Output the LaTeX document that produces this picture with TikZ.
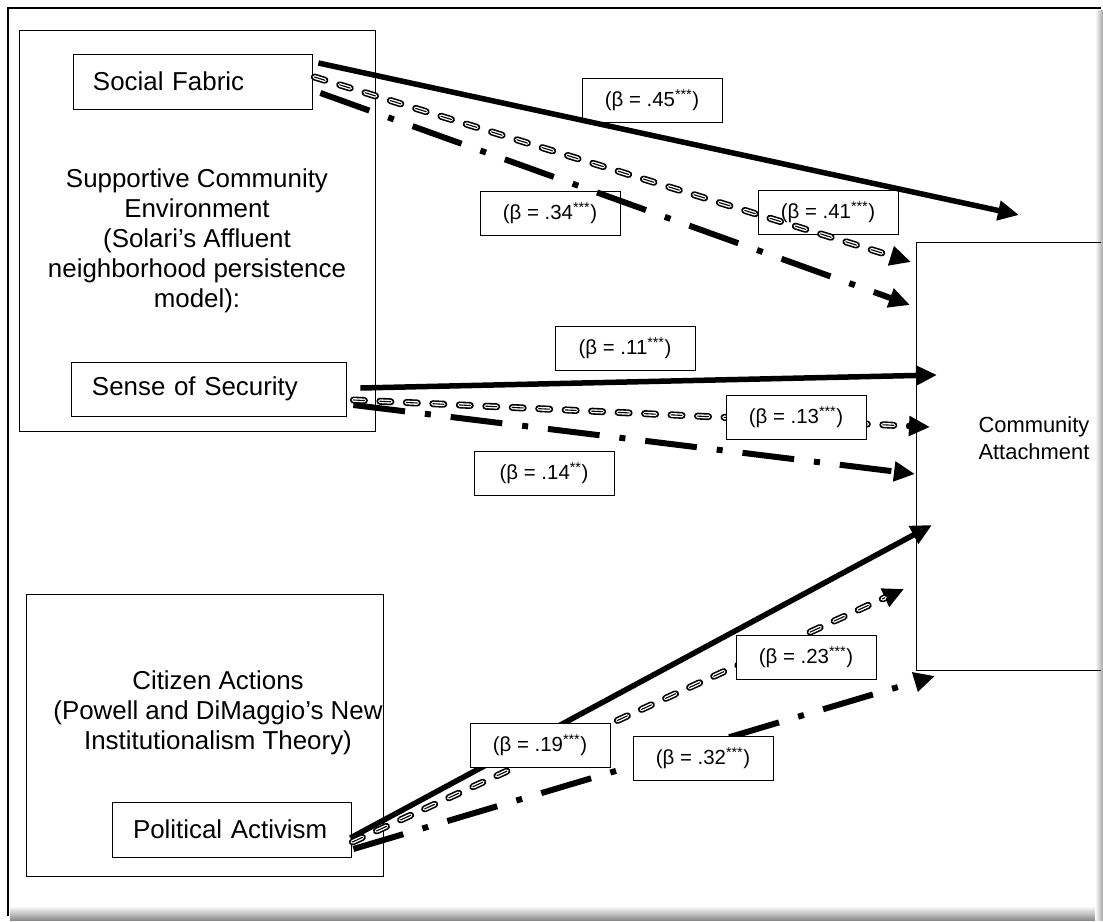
\documentclass[tikz,border=0pt]{standalone}
\usepackage{fontspec}
\setmainfont{Liberation Sans}
\usetikzlibrary{arrows.meta,positioning}
\tikzset{
  box/.style={draw, line width=0.8bp, inner sep=0pt},
  big/.style={font=\fontsize{26}{30}\selectfont, align=center},
  lab/.style={draw, fill=white, line width=0.8bp, minimum width=140bp,
    minimum height=44bp, font=\fontsize{20.5}{24}\selectfont},
  arrtip/.style={-{Triangle[length=21bp,width=19bp]}},
  solidarr/.style={arrtip, line width=5.5bp},
  dotarr/.style={arrtip, line width=6bp, dash pattern=on 52bp off 20bp on 6bp off 20bp},
  dblarr/.style={arrtip, line width=7bp, line cap=round, dash pattern=on 11bp off 15.5bp,
    postaction={draw=white, -, line width=3.8bp, shorten >=21bp},
    postaction={draw=black, -, line width=1.1bp, shorten >=21bp}}
}
\begin{document}
\begin{tikzpicture}[x=1bp, y=-1bp]
  \useasboundingbox (0,0) rectangle (1103,922);
  \shade[top color=white, bottom color=black!45] (10,906) rectangle (1103,920);
  \shade[left color=white, right color=black!35] (1095,10) rectangle (1103,920);
  \draw[line width=2.5bp] (8,916) -- (8,8) -- (1101,8);

  \node[box, minimum width=356bp, minimum height=401bp] (sce) at (197,230.5) {};
  \node[big] (scetxt) at (197,241) {Supportive Community\\Environment\\(Solari’s Affluent\\neighborhood persistence\\model):};
  \node[box, big, align=left, text width=199bp, inner xsep=20bp, minimum height=55bp] (sf) at (192.5,81.5) {Social Fabric};
  \node[box, big, align=left, text width=233bp, inner xsep=21bp, minimum height=54bp] (sos) at (208.5,389) {Sense of Security};

  \node[box, minimum width=357bp, minimum height=282bp] (cit) at (204.5,735) {};
  \node[big] (cittxt) at (218,713) {Citizen Actions\\(Powell and DiMaggio’s New\\Institutionalism Theory)};
  \node[box, big, align=left, text width=197bp, inner xsep=21bp, minimum height=55bp] (pa) at (231.5,829.5) {Political Activism};

  \node[minimum width=184bp, minimum height=427bp, inner sep=0pt] (ca) at (1009,456.5) {};
  \draw[line width=0.8bp] (ca.north east) -- (ca.north west) -- (ca.south west) -- (ca.south east);
  \node[font=\fontsize{22}{27}\selectfont, align=left, anchor=west] (catxt) at (975,438) {Community\\Attachment};

  \coordinate (t1) at (1019,215); \coordinate (t2) at (911,262); \coordinate (t3) at (910,305);
  \coordinate (t4) at (937,375); \coordinate (t5) at (930,427); \coordinate (t6) at (915,474);
  \coordinate (t7) at (932,525); \coordinate (t8) at (904,589); \coordinate (t9) at (935,676);

  \node[lab] (b45) at (652,100) {(β = .45\textsuperscript{***})};
  \node[lab] (b34) at (550,213) {(β = .34\textsuperscript{***})};
  \node[lab] (b41) at (828,212) {(β = .41\textsuperscript{***})};
  \node[lab] (b11) at (625,348) {(β = .11\textsuperscript{***})};
  \node[lab] (b14) at (544,473) {(β = .14\textsuperscript{**})};

  \draw[solidarr] ([shift={(6,-18.5)}]sf.east) -- (t1);
  \draw[dblarr] ([shift={(2,-4.5)}]sf.east) -- (t2);
  \draw[dotarr] ([shift={(8,11.5)}]sf.east) -- (t3);
  \draw[solidarr] ([shift={(14,-1)}]sos.east) -- (t4);
  \draw[dblarr] ([shift={(7,11)}]sos.east) -- (t5);
  \draw[dotarr] ([shift={(7,16)}]sos.east) -- (t6);
  \draw[solidarr] ([shift={(-1,8.5)}]pa.east) -- (t7);
  \draw[dblarr] ([shift={(1,12.5)}]pa.east) -- (t8);
  \draw[dotarr] ([shift={(2,19.5)}]pa.east) -- (t9);

  \node[lab] (b13) at (796,417) {(β = .13\textsuperscript{***})};
  \node[lab] (b19) at (540,745) {(β = .19\textsuperscript{***})};
  \node[lab] (b23) at (806,657) {(β = .23\textsuperscript{***})};
  \node[lab] (b32) at (703,758) {(β = .32\textsuperscript{***})};
\end{tikzpicture}
\end{document}
